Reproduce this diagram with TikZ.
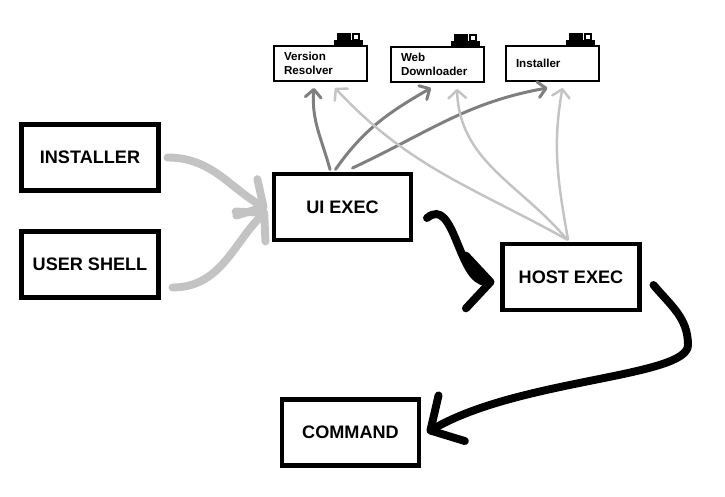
\documentclass[tikz,border=0pt]{standalone}
\usepackage{fontspec}
\setmainfont{Liberation Sans}
\usetikzlibrary{arrows.meta}

\definecolor{lightgrey}{RGB}{195,195,195}
\definecolor{darkgrey}{RGB}{127,127,127}

\begin{document}
\begin{tikzpicture}[x=0.02cm,y=-0.02cm,
  bigbox/.style={draw,line width=2.3pt,minimum width=2.74cm,minimum height=1.32cm,inner sep=0pt,font=\fontsize{10.3}{12}\selectfont\bfseries},
  smallbox/.style={draw,line width=1.1pt,minimum height=0.7cm,text width=1.46cm,inner xsep=0.2cm,inner ysep=0pt,align=left,font=\fontsize{6.6}{8}\selectfont\bfseries},
  fatgrey/.style={lightgrey,line width=4.5pt,line cap=round,-{Straight Barb[round,length=11pt,width=24pt]}},
  fatblack/.style={black,line width=4.5pt,line cap=round,-{Straight Barb[round,length=14pt,width=30pt]}},
  thindark/.style={darkgrey,line width=1.7pt,line cap=round,-{Straight Barb[round,length=4.5pt,width=9pt]}},
  thinlight/.style={lightgrey,line width=1.4pt,line cap=round,-{Straight Barb[round,length=4.5pt,width=10pt]}}]
\useasboundingbox (0,0) rectangle (725,497);

\node[bigbox] (inst) at (90,157.5) {INSTALLER};
\node[bigbox] (ushell) at (90,264.5) {USER SHELL};
\node[bigbox] (uiexec) at (342.5,207) {UI EXEC};
\node[bigbox] (hostexec) at (571,277) {HOST EXEC};
\node[bigbox] (cmd) at (350.5,432.5) {COMMAND};

\node[smallbox] (vres) at (320.5,63.5) {Version\\Resolver};
\node[smallbox] (wdl) at (437.5,64.5) {Web\\Downloader};
\node[smallbox] (instc) at (552.5,63.5) {Installer};

\foreach \b in {vres,wdl,instc}{
  \begin{scope}[shift={(\b.north east)}]
    \fill (-34,0) rectangle (-5,-5);
    \fill (-31,-5) rectangle (-17,-12);
    \filldraw[fill=white,line width=1.1pt] (-15,-5.5) rectangle (-9,-11);
  \end{scope}
}

\draw[fatgrey] ([xshift=0.14cm]inst.east) to[out=0,in=150] ([xshift=-0.1cm,yshift=-0.04cm]uiexec.west);
\draw[fatgrey] ([xshift=0.24cm,yshift=-0.46cm]ushell.east) to[out=0,in=225] ([xshift=-0.1cm,yshift=-0.06cm]uiexec.west);

\draw[fatblack] ([xshift=0.28cm,yshift=-0.22cm]uiexec.east) to[out=40,in=180] ([xshift=-0.12cm,yshift=-0.1cm]hostexec.west);
\coordinate (hbend) at (688,345);
\draw[fatblack] ([xshift=0.24cm,yshift=-0.16cm]hostexec.east) to[out=-50,in=90] (hbend) to[out=-90,in=30,out looseness=0.3] ([xshift=0.12cm]cmd.east);

\draw[thindark] ([xshift=-0.25cm,yshift=0.05cm]uiexec.north) to[out=105,in=-95] ([xshift=-0.13cm,yshift=-0.12cm]vres.south);
\draw[thindark] ([xshift=-0.14cm,yshift=0.05cm]uiexec.north) to[out=55,in=210] ([xshift=-0.13cm,yshift=-0.1cm]wdl.south);
\draw[thindark] ([xshift=0.2cm,yshift=0.08cm]uiexec.north) to[out=25,in=190] ([xshift=-0.1cm,yshift=-0.12cm]instc.south);

\draw[thinlight] ([xshift=-0.08cm,yshift=0.05cm]hostexec.north) to[out=151,in=-47] ([xshift=0.29cm,yshift=-0.12cm]vres.south);
\draw[thinlight] ([xshift=-0.08cm,yshift=0.05cm]hostexec.north) to[out=130,in=-88] ([xshift=0.39cm,yshift=-0.12cm]wdl.south);
\draw[thinlight] ([xshift=-0.06cm,yshift=0.05cm]hostexec.north) to[out=100,in=-100] ([xshift=0.2cm,yshift=-0.12cm]instc.south);
\end{tikzpicture}
\end{document}
